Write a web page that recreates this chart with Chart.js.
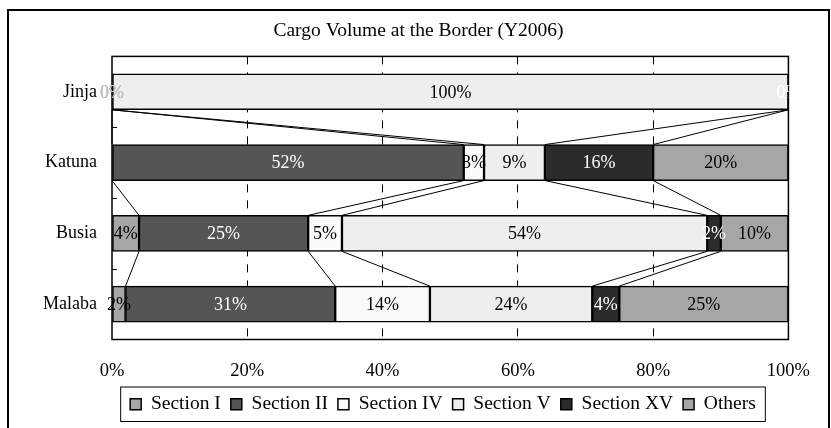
<!DOCTYPE html>
<html>
<head>
<meta charset="utf-8">
<script src="https://cdn.jsdelivr.net/npm/chart.js@4"></script>
<style>
html, body { margin: 0; padding: 0; background: #fff; }
#wrap { width: 831px; height: 428px; }
</style>
</head>
<body>
<div id="wrap"><canvas id="cargoChart" width="831" height="428"></canvas></div>
<script>
// data
const borders = ['Jinja', 'Katuna', 'Busia', 'Malaba'];
const seriesNames = ['Section I', 'Section II', 'Section IV', 'Section V', 'Section XV', 'Others'];
const sectionI = [0, 0, 4, 2];
const sectionII = [0, 52, 25, 31];
const sectionIV = [0, 3, 5, 14];
const sectionV = [100, 9, 54, 24];
const sectionXV = [0, 16, 2, 4];
const others = [0, 20, 10, 25];
const xTicks = [0, 20, 40, 60, 80, 100];

const seriesData = [sectionI, sectionII, sectionIV, sectionV, sectionXV, others];
const fills = ['#a6a6a6', '#555555', '#fafafa', '#eeeeee', '#2b2b2b', '#a6a6a6'];
const labelColors = ['#000', '#fff', '#000', '#000', '#fff', '#000'];
const serif = "'Liberation Serif', 'Times New Roman', serif";
const font = { family: serif, size: 18 };

// white page, outer frame, plot frame, ticks between categories
const framePlugin = {
    id: 'frames',
    beforeDraw(chart) {
        const c = chart.ctx;
        c.save();
        c.fillStyle = '#fff';
        c.fillRect(0, 0, chart.width, chart.height);
        c.strokeStyle = '#000';
        c.lineWidth = 2;
        c.strokeRect(8, 10, 821, 440);
        c.restore();
    },
    afterDatasetsDraw(chart) {
        const c = chart.ctx;
        const a = chart.chartArea;
        const bars = chart.getDatasetMeta(0).data;
        c.save();
        c.strokeStyle = '#000';
        c.lineWidth = 1.5;
        c.strokeRect(a.left, a.top, a.right - a.left, a.bottom - a.top);
        c.lineWidth = 1;
        for (let j = 0; j < bars.length - 1; j++) {
            const y = Math.round((bars[j].y + bars[j + 1].y) / 2) + 0.5;
            c.beginPath();
            c.moveTo(a.left, y);
            c.lineTo(a.left + 5, y);
            c.stroke();
        }
        // legend border
        const boxes = chart.legend.legendHitBoxes;
        if (boxes && boxes.length) {
            let l = Infinity, r = -Infinity, t = Infinity, b = -Infinity;
            boxes.forEach(h => {
                l = Math.min(l, h.left); r = Math.max(r, h.left + h.width);
                t = Math.min(t, h.top); b = Math.max(b, h.top + h.height);
            });
            c.strokeRect(l - 9.5, t - 7.5, r - l + 19, b - t + 15);
        }
        c.restore();
    }
};

// lines joining the same series from one bar to the next
const seriesLinePlugin = {
    id: 'seriesLines',
    afterDatasetsDraw(chart) {
        const c = chart.ctx;
        const xs = chart.scales.x;
        const bars = chart.getDatasetMeta(0).data;
        c.save();
        c.strokeStyle = '#000';
        c.lineWidth = 1;
        for (let j = 0; j < borders.length - 1; j++) {
            let cumA = 0, cumB = 0;
            for (let k = 0; k < seriesData.length - 1; k++) {
                cumA += seriesData[k][j];
                cumB += seriesData[k][j + 1];
                const yA = bars[j].y + bars[j].height / 2;
                const yB = bars[j + 1].y - bars[j + 1].height / 2;
                c.beginPath();
                c.moveTo(xs.getPixelForValue(cumA), yA);
                c.lineTo(xs.getPixelForValue(cumB), yB);
                c.stroke();
            }
        }
        c.restore();
    }
};

// percentage labels inside the segments
const valueLabelPlugin = {
    id: 'valueLabels',
    afterDatasetsDraw(chart) {
        const c = chart.ctx;
        const a = chart.chartArea;
        c.save();
        c.font = font.size + 'px ' + serif;
        c.textAlign = 'center';
        c.textBaseline = 'middle';
        seriesData.forEach((vals, i) => {
            chart.getDatasetMeta(i).data.forEach((bar, j) => {
                const v = vals[j];
                const rowMax = Math.max(...seriesData.map(s => s[j]));
                if (v === 0 && rowMax < 100) return;
                const x = (bar.x + bar.base) / 2;
                c.save();
                if (v === 0) {
                    c.fillStyle = x < a.left + 5 ? '#c0c0c0' : '#fff';
                    c.beginPath();
                    c.rect(0, 0, a.right, chart.height);
                    c.clip();
                } else {
                    c.fillStyle = labelColors[i];
                }
                c.fillText(Math.round(v) + '%', x, bar.y + 1);
                c.restore();
            });
        });
        c.restore();
    }
};

// put title and legend where the reference has them
const placePlugin = {
    id: 'place',
    afterLayout(chart) {
        chart.titleBlock.left = 8;
        chart.titleBlock.right = 829;
        chart.legend.left = 120;
        chart.legend.right = 766;
    }
};

const ctx = document.getElementById('cargoChart').getContext('2d');
new Chart(ctx, {
    type: 'bar',
    data: {
        labels: borders,
        datasets: seriesNames.map((name, i) => ({
            label: name,
            data: seriesData[i],
            backgroundColor: fills[i],
            borderColor: '#000',
            borderWidth: 1.5,
            borderSkipped: false,
            barThickness: 36
        }))
    },
    options: {
        indexAxis: 'y',
        responsive: false,
        animation: false,
        events: [],
        layout: { padding: { left: 0, right: 41, top: 0, bottom: 4 } },
        scales: {
            x: {
                stacked: true,
                min: 0,
                max: 100,
                afterBuildTicks: s => { s.ticks = xTicks.map(v => ({ value: v })); },
                ticks: { callback: v => v + '%', color: '#000', font: { family: serif, size: 18.5 }, padding: 21, maxRotation: 0 },
                grid: {
                    drawTicks: false,
                    lineWidth: 1,
                    color: c => (c.tick && c.tick.value > 0 && c.tick.value < 100) ? '#000' : 'rgba(0,0,0,0)'
                },
                border: { display: false, dash: [8, 8] },
                afterFit: s => { s.height = 45; }
            },
            y: {
                stacked: true,
                grid: { display: false, drawTicks: false },
                border: { display: false },
                ticks: { color: '#000', font: font, padding: 15 },
                afterFit: s => { s.width = 112; }
            }
        },
        plugins: {
            title: {
                display: true,
                text: 'Cargo Volume at the Border (Y2006)',
                color: '#000',
                font: { family: serif, size: 19.5, weight: 'normal', lineHeight: 1.2 },
                padding: { top: 19, bottom: 14 }
            },
            legend: {
                position: 'bottom',
                labels: { boxWidth: 11, boxHeight: 11, padding: 10, color: '#000', font: { family: serif, size: 19.5 } }
            },
            tooltip: { enabled: false }
        }
    },
    plugins: [framePlugin, seriesLinePlugin, valueLabelPlugin, placePlugin]
});
</script>
</body>
</html>
